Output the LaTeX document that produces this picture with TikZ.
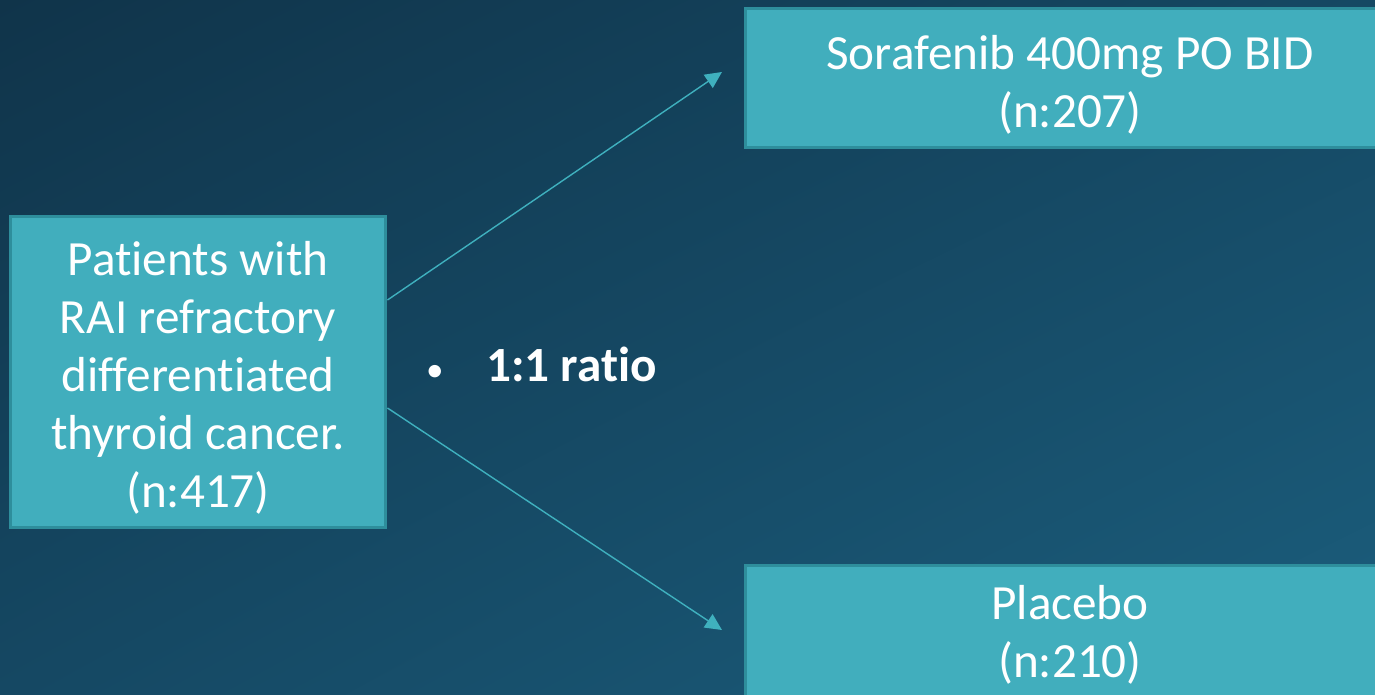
\documentclass[tikz,border=0pt]{standalone}
\usepackage{fontspec}
\setmainfont{Carlito}[Ligatures=NoCommon]
\usetikzlibrary{positioning,arrows.meta,shadings}

\definecolor{bgdark}{HTML}{10344A}
\definecolor{bgmid}{HTML}{154863}
\definecolor{bglight}{HTML}{1B5E7D}
\definecolor{boxfill}{HTML}{41AEBD}
\definecolor{boxline}{HTML}{2E8E9C}
\definecolor{armcol}{HTML}{3FB0BE}

\tikzset{
  armbox/.style={draw=boxline, line width=1.7pt, fill=boxfill, text=white,
    align=center, inner sep=0pt, font=\fontsize{28}{33}\selectfont},
  arm/.style={-{Triangle[length=9.5pt,width=9pt]}, draw=armcol, line width=0.8pt}
}

\begin{document}
\begin{tikzpicture}[x=0.02cm,y=-0.02cm]

  \useasboundingbox (0,0) rectangle (1375,695);
  \clip (0,0) rectangle (1375,695);
  \shade[upper left=bgdark, upper right=bgmid, lower left=bgmid, lower right=bglight]
    (0,0) rectangle (1375,695);

  \node (pat) [armbox, minimum width=7.52cm, minimum height=6.24cm] at (198,372)
    {\rule{0pt}{26pt}Patients with\\RAI refractory\\differentiated\\thyroid cancer.\\(n:417)};
  \node (sor) [armbox, minimum width=13cm, minimum height=2.8cm] at (1070,78)
    {\rule{0pt}{27pt}Sorafenib 400mg PO BID\\(n:207)};
  \node (pla) [armbox, minimum width=13cm, minimum height=2.8cm] at (1070,635)
    {Placebo\\(n:210)};

  \node (ratio) [anchor=west, text=white, font=\fontsize{28}{33}\selectfont] at (420,364)
    {{\fontsize{20}{22}\selectfont\textbullet}\hspace{0.85cm}\textbf{1:1 ratio}};

  \coordinate (sorend) at (722,72);
  \coordinate (plaend) at (722,630);

  \draw[arm] ([yshift=1.44cm]pat.east) -- (sorend);
  \draw[arm] ([yshift=-0.72cm]pat.east) -- (plaend);

\end{tikzpicture}
\end{document}
